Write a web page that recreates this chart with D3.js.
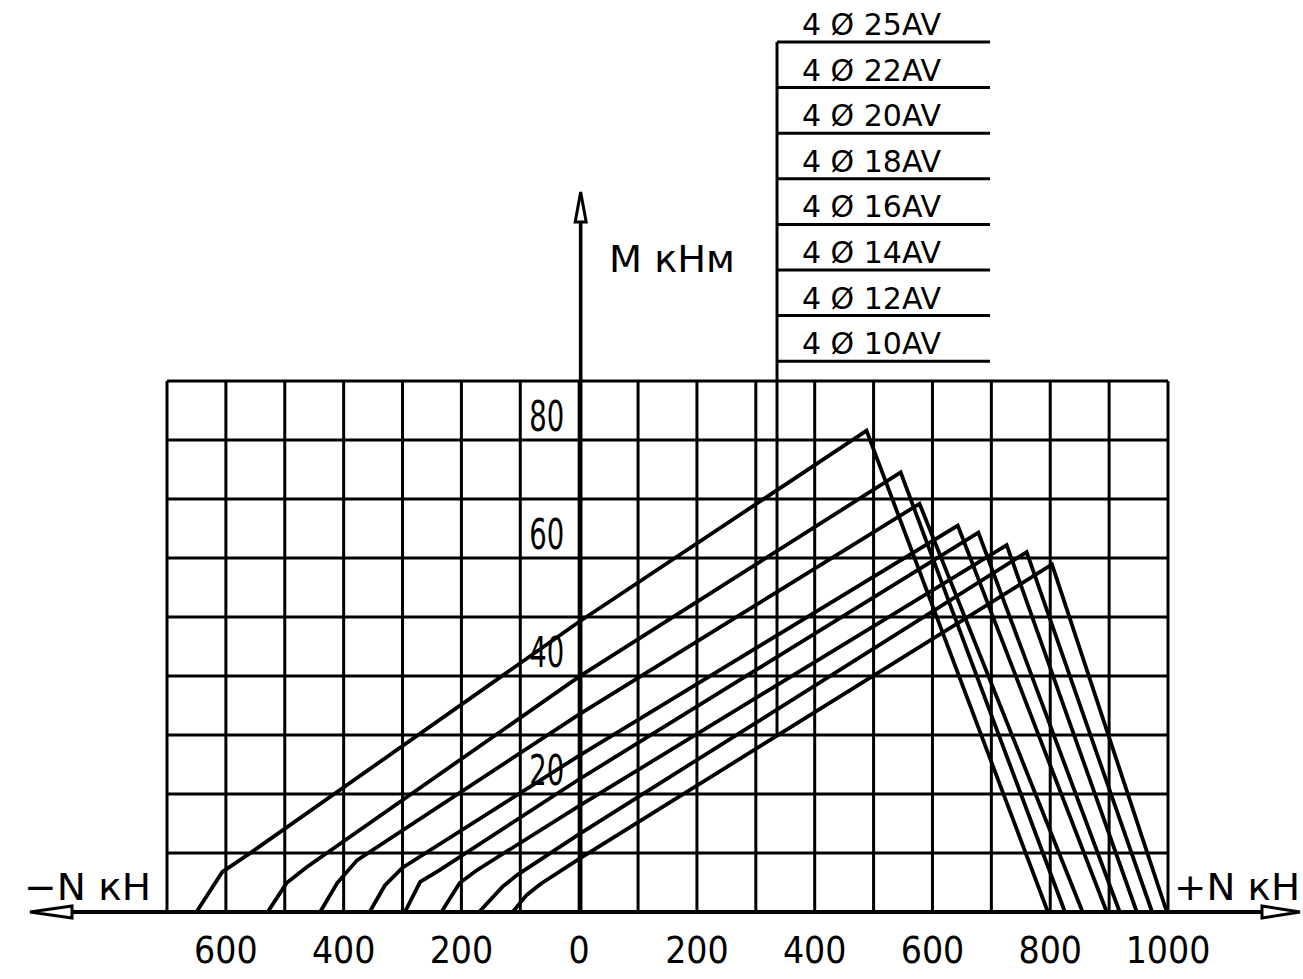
<!DOCTYPE html>
<html>
<head>
<meta charset="utf-8">
<script src="https://cdn.jsdelivr.net/npm/d3@7"></script>
<style>
  html, body { margin: 0; padding: 0; background: #fff; }
  svg { display: block; }
</style>
</head>
<body>
<svg id="chart" width="1303" height="979"></svg>
<script>
// ---------- data ----------
const barLabels = ["4 Ø 25AV", "4 Ø 22AV", "4 Ø 20AV", "4 Ø 18AV", "4 Ø 16AV", "4 Ø 14AV", "4 Ø 12AV", "4 Ø 10AV"];
// points of each interaction curve (N in kN, M in kNm)
const startN = [-650, -529, -440, -356, -296, -234, -170, -113];
const bend1N = [-606, -497, -411, -330, -270, -203, -130, -89];
const bend1M = [6.8, 4.9, 4.9, 4.5, 5.1, 4.9, 4.3, 2.9];
const bend2N = [-560, -463, -377, -300, -237, -175, -105, -65];
const bend2M = [9.9, 7.6, 8.8, 7.5, 7.1, 7.0, 6.3, 4.8];
const zeroM  = [49.2, 39.9, 33.5, 26.5, 22.5, 18.0, 13.2, 9.0];
const peakN  = [488, 546, 578, 643, 678, 726, 760, 803];
const peakM  = [81.6, 74.5, 69.2, 65.5, 64.3, 62.2, 61.0, 58.9];
const endN   = [796, 825, 855, 896, 918, 947, 973, 998];

const nTicks = [-600, -400, -200, 0, 200, 400, 600, 800, 1000];
const nTickLabels = ["600", "400", "200", "0", "200", "400", "600", "800", "1000"];
const mTicks = [20, 40, 60, 80];
const mTickLabels = ["20", "40", "60", "80"];
const nGrid = d3.range(-700, 1001, 100);
const mGrid = d3.range(0, 91, 10);
const legendN = 336;

// ---------- drawing ----------
const svg = d3.select("#chart");
const x = d3.scaleLinear().domain([-700, 1000]).range([167, 1168]);
const y = d3.scaleLinear().domain([0, 90]).range([912, 381]);

const ink = "#000";
const gridW = 3.0;
const g = svg.append("g");

// grid
g.selectAll("line.v").data(nGrid).join("line")
  .attr("x1", d => x(d)).attr("x2", d => x(d))
  .attr("y1", y(0)).attr("y2", y(90))
  .attr("stroke", ink).attr("stroke-width", gridW);
g.selectAll("line.h").data(mGrid).join("line")
  .attr("x1", x(-700)).attr("x2", x(1000))
  .attr("y1", d => y(d)).attr("y2", d => y(d))
  .attr("stroke", ink).attr("stroke-width", gridW);

// curves
const curves = barLabels.map((lab, i) => [
  [startN[i], 0], [bend1N[i], bend1M[i]], [bend2N[i], bend2M[i]],
  [0, zeroM[i]], [peakN[i], peakM[i]], [endN[i], 0]
]);
const line = d3.line().x(d => x(d[0])).y(d => y(d[1]));
g.selectAll("path.curve").data(curves).join("path")
  .attr("d", line)
  .attr("fill", "none").attr("stroke", ink)
  .attr("stroke-width", 3.8).attr("stroke-linejoin", "miter");

// legend vertical line down to the lowest curve
function mAt(pts, n) {
  for (let k = 0; k < pts.length - 1; k++) {
    const a = pts[k], b = pts[k + 1];
    if (n >= a[0] && n <= b[0]) return a[1] + (b[1] - a[1]) * (n - a[0]) / (b[0] - a[0]);
  }
  return 0;
}
const legTop = 42;
const legStep = 45.6;
g.append("line")
  .attr("x1", x(legendN)).attr("x2", x(legendN))
  .attr("y1", legTop).attr("y2", y(mAt(curves[curves.length - 1], legendN)))
  .attr("stroke", ink).attr("stroke-width", gridW);

const leg = g.selectAll("g.leg").data(barLabels).join("g")
  .attr("transform", (d, i) => `translate(0,${legTop + i * legStep})`);
leg.append("line")
  .attr("x1", x(legendN)).attr("x2", 990)
  .attr("y1", 0).attr("y2", 0)
  .attr("stroke", ink).attr("stroke-width", gridW);
leg.append("text")
  .attr("x", 802).attr("y", -7)
  .attr("font-family", "DejaVu Sans, sans-serif")
  .attr("font-size", 30)
  .attr("fill", ink)
  .text(d => d);

// M axis with arrow
const x0 = x(0) + 1.5;
g.append("line")
  .attr("x1", x0).attr("x2", x0).attr("y1", y(0)).attr("y2", 215)
  .attr("stroke", ink).attr("stroke-width", 3.6);
g.append("path")
  .attr("d", `M${x0},192 L${x0 - 5.5},222 L${x0 + 5.5},222 Z`)
  .attr("fill", "#fff").attr("stroke", ink).attr("stroke-width", 3);

// N axis with arrows
g.append("line")
  .attr("x1", 60).attr("x2", 1270).attr("y1", y(0)).attr("y2", y(0))
  .attr("stroke", ink).attr("stroke-width", 4);
g.append("path")
  .attr("d", `M30,${y(0)} L72,${y(0) - 6} L72,${y(0) + 6} Z`)
  .attr("fill", "#fff").attr("stroke", ink).attr("stroke-width", 3);
g.append("path")
  .attr("d", `M1300,${y(0)} L1262,${y(0) - 6} L1262,${y(0) + 6} Z`)
  .attr("fill", "#fff").attr("stroke", ink).attr("stroke-width", 3);

// N tick labels
g.selectAll("text.nt").data(nTicks).join("text")
  .attr("x", d => x(d)).attr("y", 963)
  .attr("text-anchor", "middle")
  .attr("font-family", "DejaVu Sans Condensed, DejaVu Sans, sans-serif")
  .attr("font-size", 37)
  .attr("fill", ink)
  .text((d, i) => nTickLabels[i]);

// M tick labels
g.selectAll("text.mt").data(mTicks).join("text")
  .attr("x", x(-100) + 9).attr("y", d => y(d) - 9)
  .attr("font-family", "DejaVu Sans Condensed, DejaVu Sans, sans-serif")
  .attr("font-size", 42)
  .attr("textLength", 35).attr("lengthAdjust", "spacingAndGlyphs")
  .attr("fill", ink)
  .text((d, i) => mTickLabels[i]);

// axis titles
g.append("text")
  .attr("x", 609).attr("y", 272)
  .attr("font-family", "DejaVu Sans Condensed, DejaVu Sans, sans-serif")
  .attr("font-size", 37)
  .attr("textLength", 126).attr("lengthAdjust", "spacingAndGlyphs")
  .attr("fill", ink)
  .text("M кНм");
g.append("text")
  .attr("x", 24).attr("y", 900)
  .attr("font-family", "DejaVu Sans Condensed, DejaVu Sans, sans-serif")
  .attr("font-size", 38)
  .attr("textLength", 127).attr("lengthAdjust", "spacingAndGlyphs")
  .attr("fill", ink)
  .text("−N кН");
g.append("text")
  .attr("x", 1174).attr("y", 900)
  .attr("font-family", "DejaVu Sans Condensed, DejaVu Sans, sans-serif")
  .attr("font-size", 38)
  .attr("textLength", 126).attr("lengthAdjust", "spacingAndGlyphs")
  .attr("fill", ink)
  .text("+N кН");
</script>
</body>
</html>
